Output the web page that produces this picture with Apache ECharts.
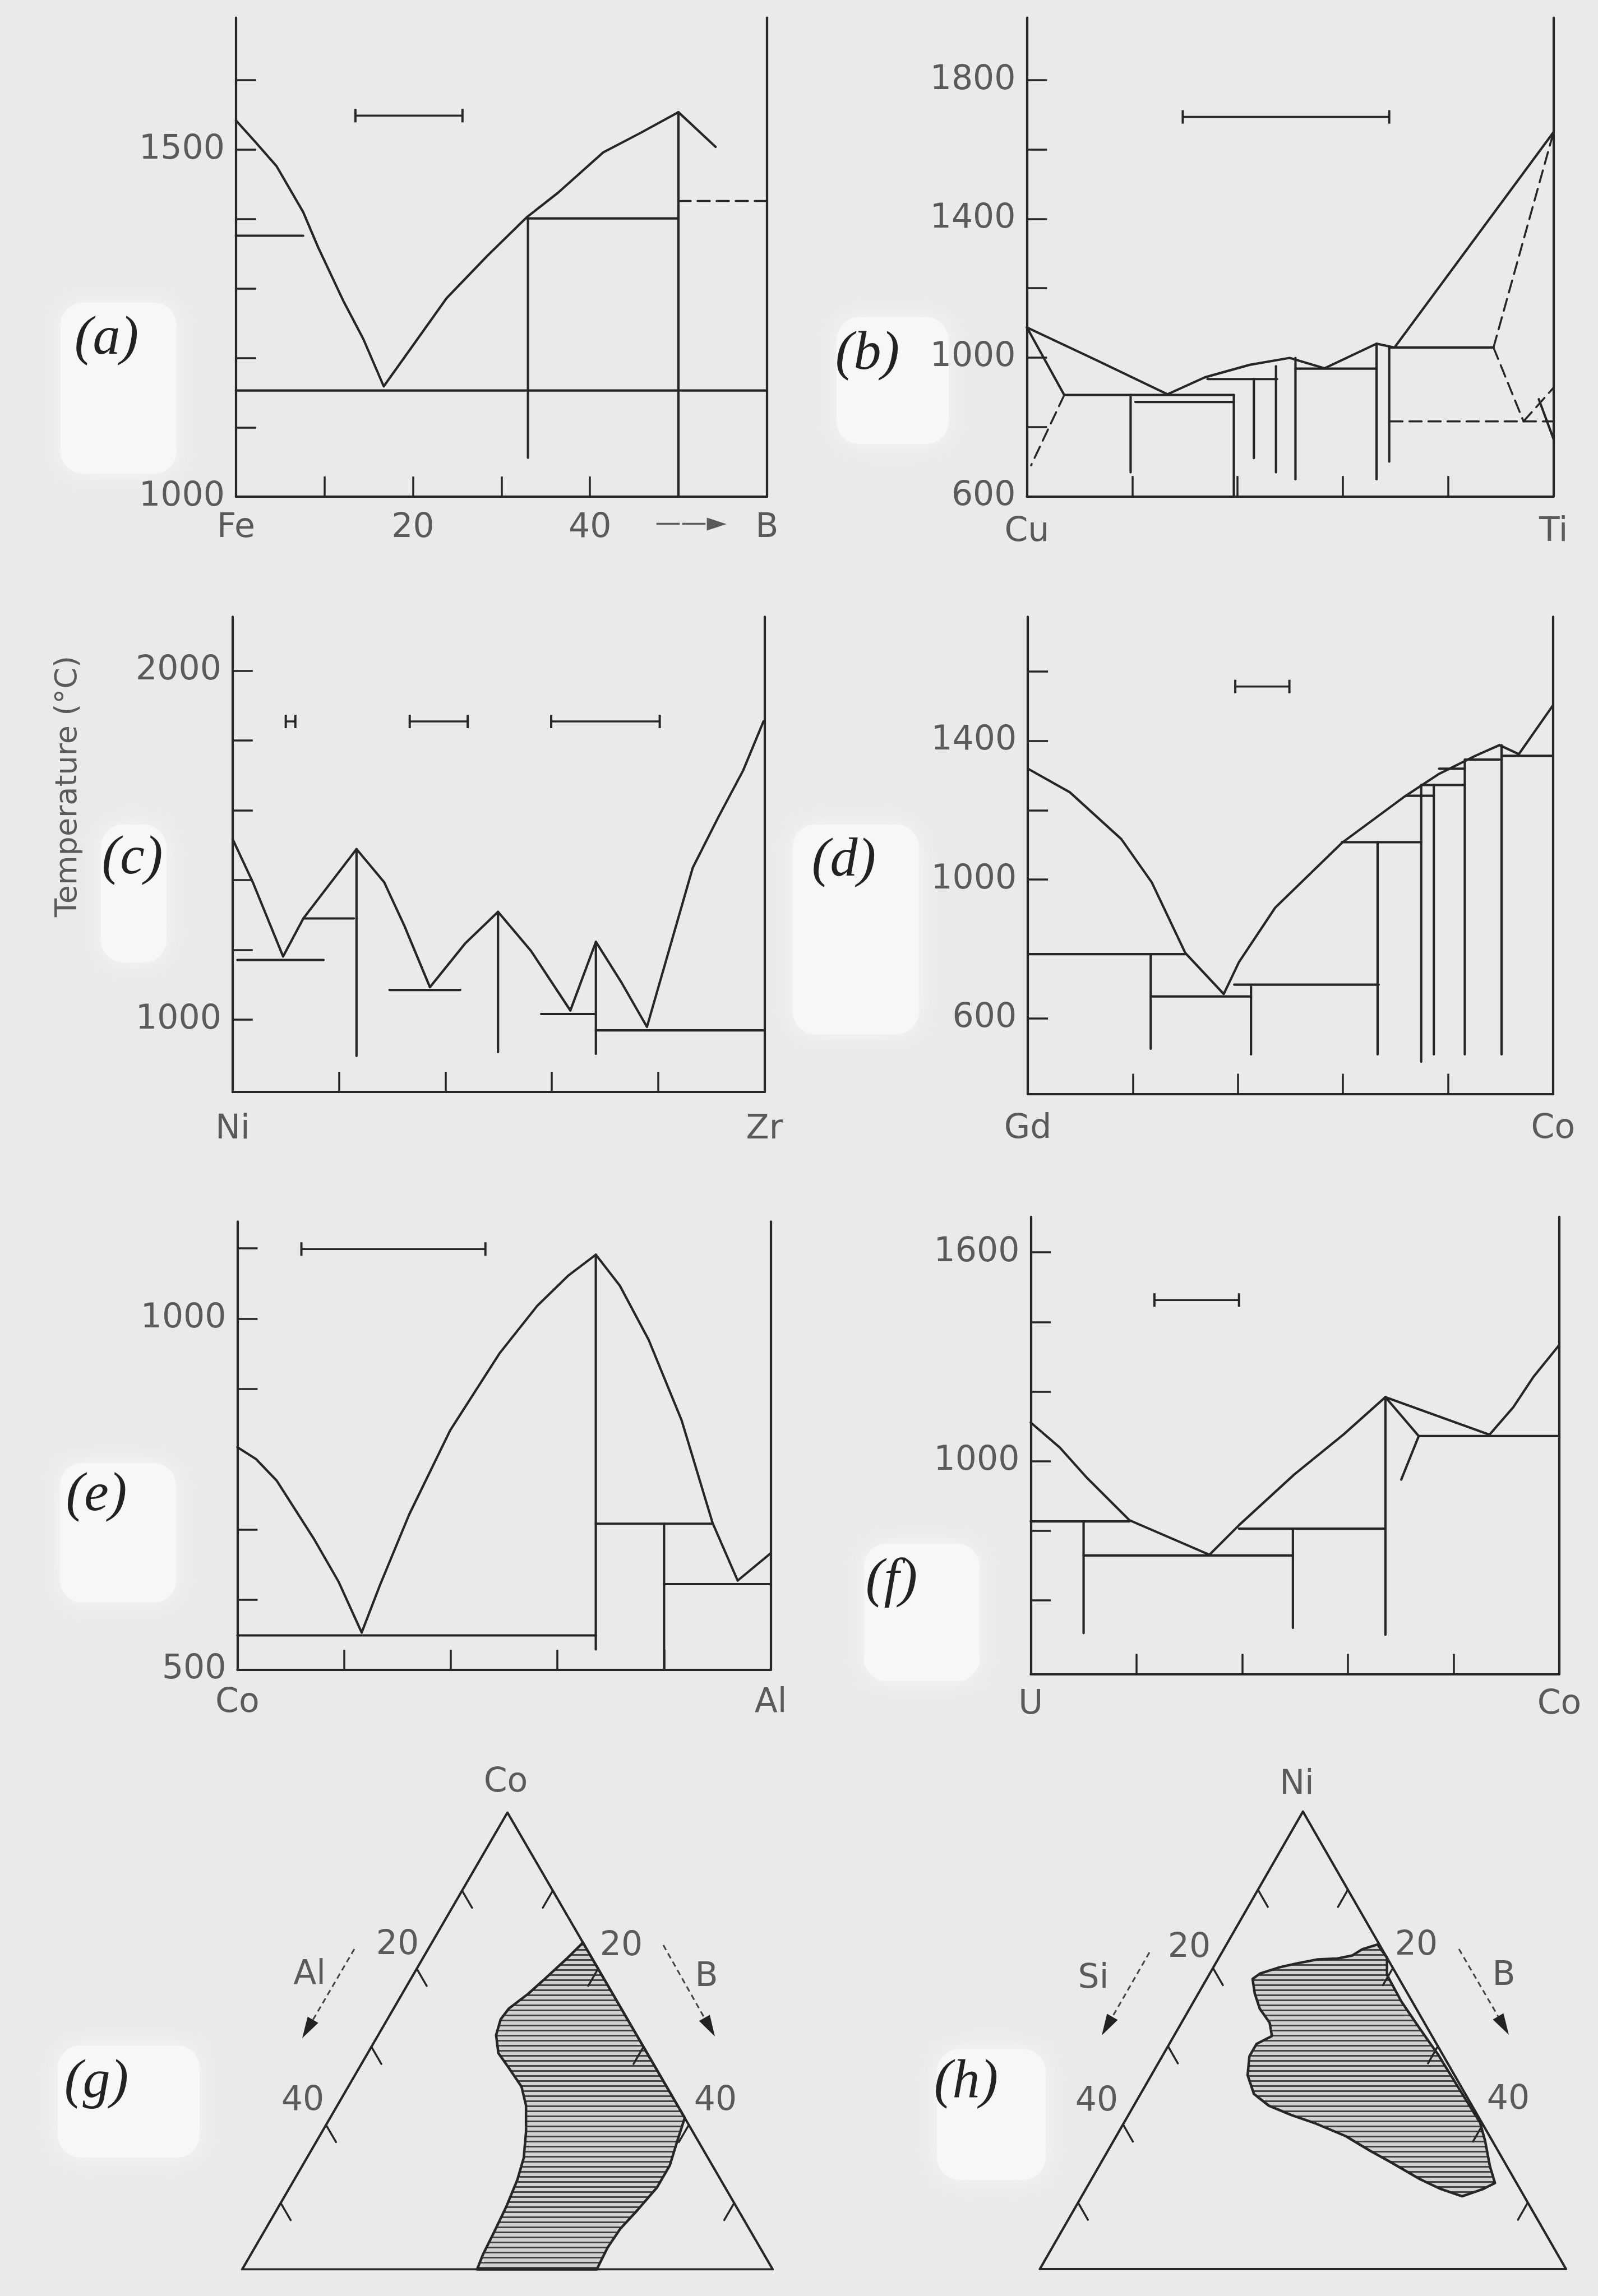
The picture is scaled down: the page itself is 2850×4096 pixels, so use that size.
<!DOCTYPE html>
<html><head><meta charset="utf-8">
<script src="https://cdn.jsdelivr.net/npm/echarts@6/dist/echarts.min.js"></script>
<style>html,body{margin:0;padding:0;background:#eaeaea}#c{width:2850px;height:4096px}</style>
</head><body><div id="c"></div>
<script>
// ================= DATA =================
// (a) Fe–B  (x: at.% B, y: °C)
const aLiquidus = [[0,1542],[2.2,1511],[4.6,1476],[7.6,1410],[9.3,1359],[12.1,1283],[14.4,1227],[16.7,1159],[20.0,1218],[23.8,1286],[28.4,1347],[32.9,1403],[36.4,1438],[41.5,1496],[45.7,1524],[50.0,1554],[54.2,1504]];
const aTieLines = [[[0,1376],[7.6,1376]],[[0,1153],[60,1153]],[[32.9,1401],[50,1401]],[[33,1401],[33,1056]],[[50,1554],[50,1000]]];
const aDashed = [[[50,1426],[60,1426]]];
const aScaleBar = [[13.5,25.6,1549]];
const aXTicks = [10,20,30,40,50];
const aXLabelAt = [0,20,40,51.4,60];
const aXLabelText = ['Fe','20','40','——►','B'];
const aYTicks = [1100,1200,1300,1400,1500,1600];
const aYLabels = [1000,1500];

// (b) Cu–Ti
const bLiquidus = [[0,1087],[13,994],[26.7,894],[33.8,943],[42.3,979],[49.9,999],[56.5,969],[66.4,1040],[69.8,1029],[100,1650]];
const bTieLines = [[[0,1087],[7.1,892]],[[7.1,892],[39.3,892]],[[20.6,872],[39.3,872]],[[19.7,892],[19.7,669]],[[39.3,892],[39.3,600]],[[34.3,938],[47.5,938]],[[43.1,938],[43.1,710]],[[47.3,975],[47.3,669]],[[51,999],[51,649]],[[51,968],[66.4,968]],[[66.4,1040],[66.4,649]],[[68.8,1029],[68.8,700]],[[68.8,1029],[88.6,1029]],[[97.2,880],[100,765]]];
const bDashed = [[[7.1,892],[0.8,689]],[[88.6,1029],[100,1650]],[[88.6,1029],[94.3,816]],[[69,816],[100,816]],[[94.3,816],[100,913]]];
const bScaleBar = [[29.6,68.8,1694]];
const bXTicks = [20,40,60,80];
const bXLabelAt = [0,100];
const bXLabelText = ['Cu','Ti'];
const bYTicks = [800,1000,1200,1400,1600,1800];
const bYLabels = [600,1000,1400,1800];

// (c) Ni–Zr
const cLiquidus = [[0,1518],[3.8,1394],[9.5,1181],[13.3,1290],[23.3,1489],[28.5,1394],[32.3,1269],[37.1,1093],[43.7,1218],[49.9,1309],[56.1,1197],[63.5,1026],[68.3,1223],[73.2,1104],[77.9,979],[86.5,1435],[91.3,1580],[96,1715],[99.8,1855]];
const cTieLines = [[[0.9,1171],[17.1,1171]],[[13.3,1290],[22.8,1290]],[[23.3,1489],[23.3,896]],[[29.5,1085],[42.8,1085]],[[49.9,1309],[49.9,907]],[[58,1016],[68,1016]],[[68.3,1223],[68.3,902]],[[68.3,969],[100,969]]];
const cDashed = [];
const cScaleBar = [[10,11.8,1855],[33.3,44.2,1855],[59.9,80.3,1855]];
const cXTicks = [20,40,60,80];
const cXLabelAt = [0,100];
const cXLabelText = ['Ni','Zr'];
const cYTicks = [1000,1200,1400,1600,1800,2000];
const cYLabels = [1000,2000];

// (d) Gd–Co
const dLiquidus = [[0,1320],[8,1252],[17.8,1117],[23.6,992],[30,788],[37.3,670],[40.2,762],[47.1,919],[59.8,1106],[71.5,1237],[78.3,1305],[85.2,1357],[89.8,1388],[93.5,1362],[100,1503]];
const dTieLines = [[[0,785],[30,785]],[[23.4,785],[23.4,512]],[[23.6,663],[42.5,663]],[[42.5,691],[42.5,496]],[[39.3,697],[66.8,697]],[[66.6,1108],[66.6,496]],[[59.8,1108],[74.9,1108]],[[74.9,1273],[74.9,475]],[[72,1242],[77.3,1242]],[[77.3,1273],[77.3,496]],[[74.9,1273],[83.2,1273]],[[83.2,1341],[83.2,496]],[[78.3,1320],[83.2,1320]],[[83.2,1346],[89.8,1346]],[[90.2,1388],[90.2,496]],[[90.2,1357],[100,1357]]];
const dDashed = [];
const dScaleBar = [[39.5,49.8,1557]];
const dXTicks = [20,40,60,80];
const dXLabelAt = [0,100];
const dXLabelText = ['Gd','Co'];
const dYTicks = [600,1000,1200,1400,1600];
const dYLabels = [600,1000,1400];

// (e) Co–Al
const eLiquidus = [[0,817],[3.5,800],[7.4,769],[14.3,687],[19,625],[23.3,553],[26.7,620],[32.2,721],[39.9,841],[49.2,951],[56.2,1018],[62,1061],[67.2,1091],[71.7,1047],[77.1,970],[83.3,855],[89.1,709],[93.8,627],[100,666]];
const eTieLines = [[[0,549],[67.2,549]],[[67.2,1091],[67.2,529]],[[67.2,708],[89.1,708]],[[80,708],[80,500]],[[80,622],[100,622]]];
const eDashed = [];
const eScaleBar = [[12,46.5,1099]];
const eXTicks = [20,40,60,80];
const eXLabelAt = [0,100];
const eXLabelText = ['Co','Al'];
const eYTicks = [600,700,900,1000,1100];
const eYLabels = [500,1000];

// (f) U–Co
const fLiquidus = [[0,1111],[5.5,1039],[10.7,951],[18.7,830],[33.8,731],[39.4,816],[49.8,961],[59.2,1077],[67.1,1184]];
const fTieLines = [[[67.1,1184],[86.8,1076],[91.3,1155],[95.1,1242],[100,1334]],[[67.1,1184],[73.4,1072],[70.1,947]],[[73.4,1072],[100,1072]],[[0,827],[18.7,827]],[[10,827],[10,506]],[[10,729],[49.6,729]],[[39.4,806],[67.1,806]],[[49.6,806],[49.6,521]],[[67.1,1184],[67.1,501]]];
const fDashed = [];
const fScaleBar = [[23.4,39.4,1463]];
const fXTicks = [20,40,60,80];
const fXLabelAt = [0,100];
const fXLabelText = ['U','Co'];
const fYTicks = [600,800,1000,1200,1400,1600];
const fYLabels = [1000,1600];

// (g) Co–Al–B glass-forming region, compositions [at.% Al, at.% B]
const gRegion = [[0.2,16.6],[2.8,15.9],[6.1,14.9],[9.3,13.9],[12.4,12.7],[14.0,12.5],[15.5,13.0],[16.4,14.4],[16.2,16.5],[16.0,19.1],[16.7,20.8],[18.4,22.5],[20.3,23.9],[22.4,24.6],[25.3,25.1],[28.4,25.4],[31.0,25.6],[32.6,25.9],[19.4,39.1],[16.8,38.9],[14.2,39.1],[11.1,39.8],[7.5,40.5],[4.7,40.5],[2.1,39.7],[0,39.1],[0,16.6]];
// (h) Ni–Si–B glass-forming region, compositions [at.% Si, at.% B]
const hRegion = [[0.2,16.8],[2.2,15.4],[3.7,14.7],[5.6,13.2],[7.8,11.1],[10.3,9.1],[12.5,7.4],[15.1,5.6],[16.3,5.1],[17.0,6.3],[17.4,7.8],[17.2,9.8],[17.8,10.9],[20.0,9.7],[21.6,9.7],[23.0,10.7],[23.5,12.6],[22.6,15.0],[20.7,18.1],[18.5,21.4],[16.0,25.5],[14.2,29.2],[12.7,32.1],[10.5,36.5],[8.9,39.3],[6.9,42.3],[4.2,44.1],[2.4,45.1],[1.9,43.5],[0.8,41.3],[0.2,39.6],[0.3,37.0],[0.5,30.7],[0.7,28.7],[0.9,26.7],[1.2,23.1],[1.1,19.8],[0,18.7]];
const ternSide = 58.5;                 // composition span of each triangle side (%)
const ternVertices = [[0,0],[58.5,0],[0,58.5]];
const ternTicks = [10,20,30,40,50];
const ternTickLabels = ['20','40'];

// ================= LAYOUT / STYLE =================
const LINE = '#262626';
const LABEL = '#5a5a5a';
const FONT = '"DejaVu Sans", sans-serif';
const LW = 4.2;
const SQ = Math.sqrt(3) / 2;
function tern(a, b) { return [(b - a) / 2, (ternSide - a - b) * SQ]; }

const panels = [
  {g:{left:420.8, top:31.7, width:947.0, height:854.4}, x:[0,60], y:[1000,1690], xm:26,
   liq:aLiquidus, tie:aTieLines, dash:aDashed, bar:aScaleBar, xt:aXTicks, xl:aXLabelAt, xs:aXLabelText, yt:aYTicks, yl:aYLabels},
  {g:{left:1831.4, top:31.7, width:939.3, height:853.6}, x:[0,100], y:[600,1980], xm:34,
   liq:bLiquidus, tie:bTieLines, dash:bDashed, bar:bScaleBar, xt:bXTicks, xl:bXLabelAt, xs:bXLabelText, yt:bYTicks, yl:bYLabels},
  {g:{left:414.8, top:1100.4, width:948.7, height:847.5}, x:[0,100], y:[792.7,2155], xm:38,
   liq:cLiquidus, tie:cTieLines, dash:cDashed, bar:cScaleBar, xt:cXTicks, xl:cXLabelAt, xs:cXLabelText, yt:cYTicks, yl:cYLabels},
  {g:{left:1833.1, top:1100.4, width:936.7, height:851.0}, x:[0,100], y:[382,1758], xm:33,
   liq:dLiquidus, tie:dTieLines, dash:dDashed, bar:dScaleBar, xt:dXTicks, xl:dXLabelAt, xs:dXLabelText, yt:dYTicks, yl:dYLabels},
  {g:{left:423.4, top:2179.4, width:951.2, height:799.5}, x:[0,100], y:[500,1138], xm:30,
   liq:eLiquidus, tie:eTieLines, dash:eDashed, bar:eScaleBar, xt:eXTicks, xl:eXLabelAt, xs:eXLabelText, yt:eYTicks, yl:eYLabels},
  {g:{left:1838.3, top:2170.8, width:942.7, height:815.8}, x:[0,100], y:[388,1702], xm:25,
   liq:fLiquidus, tie:fTieLines, dash:fDashed, bar:fScaleBar, xt:fXTicks, xl:fXLabelAt, xs:fXLabelText, yt:fYTicks, yl:fYLabels}
];
const ternGrids = [
  {left:431.9, top:3233.5, width:946.2, height:815.0, region:gRegion},
  {left:1854.5, top:3231.7, width:938.5, height:816.3, region:hRegion}
];

// hatch pattern
const hc = document.createElement('canvas'); hc.width = 16; hc.height = 9;
const hx = hc.getContext('2d');
hx.fillStyle = '#d2d2d2'; hx.fillRect(0,0,16,9);
hx.fillStyle = '#444444'; hx.fillRect(0,3,16,3);
const hatch = {image: hc, repeat: 'repeat'};

const grid = [], xAxis = [], yAxis = [], series = [];
function lineSer(xi, yi, data, type, width) {
  return {type:'line', xAxisIndex:xi, yAxisIndex:yi, data:data, symbol:'none', silent:true,
    lineStyle:{color:LINE, width:width || LW, type: type === 'dashed' ? [22,12] : 'solid', cap:'round', join:'round'}, z:3};
}

panels.forEach((p, i) => {
  grid.push({left:p.g.left, top:p.g.top, width:p.g.width, height:p.g.height});
  const labMap = {}; p.xl.forEach((v, k) => labMap[v] = p.xs[k]);
  xAxis.push({type:'value', gridIndex:i, min:p.x[0], max:p.x[1],
    axisLine:{onZero:false, lineStyle:{color:LINE, width:LW}},
    axisTick:{show:true, inside:true, length:36, customValues:p.xt, lineStyle:{color:LINE, width:3.5}},
    axisLabel:{customValues:p.xl, margin:p.xm, color:LABEL, fontFamily:FONT, fontSize:60,
      formatter: v => { const t = labMap[v]; if (t === undefined) return ''; return t.indexOf('►') >= 0 ? '{arr|' + t + '}' : t; },
      rich:{arr:{fontSize:46, fontFamily:FONT, color:LABEL}}},
    splitLine:{show:false}});
  yAxis.push({type:'value', gridIndex:i, position:'left', min:p.y[0], max:p.y[1],
    axisLine:{show:true, onZero:false, lineStyle:{color:LINE, width:LW}},
    axisTick:{show:true, inside:true, length:36, customValues:p.yt, lineStyle:{color:LINE, width:3.5}},
    axisLabel:{customValues:p.yl, margin:20, color:LABEL, fontFamily:FONT, fontSize:60, formatter: v => String(v)},
    splitLine:{show:false}});
  yAxis.push({type:'value', gridIndex:i, position:'right', min:p.y[0], max:p.y[1],
    axisLine:{show:true, onZero:false, lineStyle:{color:LINE, width:LW}},
    axisTick:{show:false}, axisLabel:{show:false}, splitLine:{show:false}});
  const yi = 2 * i;
  series.push(lineSer(i, yi, p.liq, 'solid'));
  p.tie.forEach(s => series.push(lineSer(i, yi, s, 'solid')));
  p.dash.forEach(s => series.push(lineSer(i, yi, s, 'dashed', 3.5)));
  p.bar.forEach(b => series.push({type:'line', xAxisIndex:i, yAxisIndex:yi, data:[[b[0], b[2]],[b[1], b[2]]],
    symbol:'rect', symbolSize:[4, 24], showSymbol:true, silent:true, itemStyle:{color:LINE},
    lineStyle:{color:LINE, width:3.5}, z:3}));
});

ternGrids.forEach((t, k) => {
  const gi = panels.length + k;
  const yi = 2 * panels.length + k;
  grid.push({left:t.left, top:t.top, width:t.width, height:t.height});
  xAxis.push({type:'value', gridIndex:gi, min:-ternSide/2, max:ternSide/2, show:false});
  yAxis.push({type:'value', gridIndex:gi, min:0, max:ternSide*SQ, show:false});
  const poly = t.region.map(p => tern(p[0], p[1]));
  series.push({type:'custom', coordinateSystem:'cartesian2d', xAxisIndex:gi, yAxisIndex:yi, data:poly, silent:true, z:2,
    renderItem: (params, api) => {
      if (params.dataIndex !== 0) return null;
      return {type:'polygon', shape:{points:poly.map(d => api.coord(d))},
        style:{fill:hatch, stroke:LINE, lineWidth:4.5, lineJoin:'round'}};
    }});
  const v = ternVertices.map(p => tern(p[0], p[1]));
  series.push(lineSer(gi, yi, [v[0], v[1], v[2], v[0]], 'solid', LW));
  ternTicks.forEach(tv => {
    series.push(lineSer(gi, yi, [tern(tv, 0), tern(tv, 2.2)], 'solid', 3.5));
    series.push(lineSer(gi, yi, [tern(0, tv), tern(2.2, tv)], 'solid', 3.5));
  });
});

// ---------- annotations ----------
const graphic = [];
const patches = [[108,540,207,305],[1492,566,200,226],[180,1471,117,246],[1414,1471,225,374],[107,2610,207,249],[1541,2754,206,245],[103,3649,253,200],[1671,3656,194,233]];
patches.forEach(r => graphic.push({type:'rect', z:-10, silent:true, shape:{x:r[0], y:r[1], width:r[2], height:r[3], r:40},
  style:{fill:'#f7f7f7', shadowBlur:40, shadowColor:'#f7f7f7'}}));
const panelLabels = [['(a)',190,605],['(b)',1547,632],['(c)',236,1532],['(d)',1505,1536],['(e)',172,2668],['(f)',1590,2821],['(g)',172,3715],['(h)',1723,3715]];
panelLabels.forEach(l => graphic.push({type:'text', x:l[1], y:l[2], silent:true,
  style:{text:l[0], font:'italic 98px "Liberation Serif", "DejaVu Serif", serif', fill:'#222', align:'center', verticalAlign:'middle'}}));
graphic.push({type:'text', x:122, y:1403, rotation:Math.PI/2, silent:true,
  style:{text:'Temperature (°C)', font:'54px "DejaVu Sans", sans-serif', fill:LABEL, align:'center', verticalAlign:'middle'}});
const ternText = [
  ['Co',902,3180],[ternTickLabels[0],709,3470],[ternTickLabels[1],540,3748],[ternTickLabels[0],1108,3472],[ternTickLabels[1],1276,3748],['Al',552,3523],['B',1260,3527],
  ['Ni',2313,3184],[ternTickLabels[0],2121,3475],[ternTickLabels[1],1956,3749],[ternTickLabels[0],2526,3471],[ternTickLabels[1],2690,3746],['Si',1950,3530],['B',2682,3525]
];
ternText.forEach(l => graphic.push({type:'text', x:l[1], y:l[2], silent:true,
  style:{text:l[0], font:'60px "DejaVu Sans", sans-serif', fill:LABEL, align:'center', verticalAlign:'middle'}}));
const arrows = [[632,3477,539,3636],[1183,3470,1275,3633],[2050,3483,1965,3631],[2602,3477,2691,3630]];
arrows.forEach(a => {
  const dx = a[2]-a[0], dy = a[3]-a[1], L = Math.hypot(dx, dy), ux = dx/L, uy = dy/L;
  const hl = 38, hw = 11;
  const bx = a[2]-ux*hl, by = a[3]-uy*hl;
  graphic.push({type:'line', silent:true, shape:{x1:a[0], y1:a[1], x2:bx, y2:by}, style:{stroke:'#444', lineWidth:3, lineDash:[10,7]}});
  graphic.push({type:'polygon', silent:true, shape:{points:[[a[2],a[3]],[bx-uy*hw, by+ux*hw],[bx+uy*hw, by-ux*hw]]}, style:{fill:'#222'}});
});

const chart = echarts.init(document.getElementById('c'), null, {renderer:'canvas', width:2850, height:4096});
chart.setOption({
  backgroundColor:'#eaeaea',
  animation:false,
  grid:grid, xAxis:xAxis, yAxis:yAxis, series:series, graphic:graphic
});
</script>
</body></html>
